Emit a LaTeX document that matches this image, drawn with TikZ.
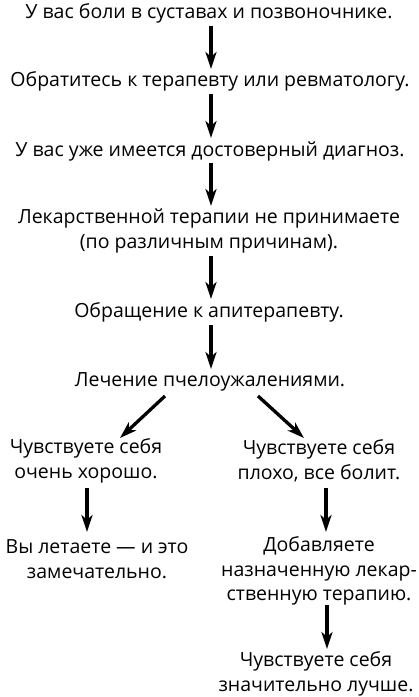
\documentclass[tikz,border=0pt]{standalone}
\usepackage{fontspec}
\setmainfont{Open Sans}
\usetikzlibrary{arrows.meta}
\begin{document}
\begin{tikzpicture}[x=1pt,y=-1pt,
  txt/.style={align=center,inner sep=0pt,font=\fontsize{19.5}{24.8}\selectfont},
  arr/.style={line width=3.3pt,-{Stealth[length=17pt,width=11pt,inset=5pt]}}]
\useasboundingbox (0,0) rectangle (419,697);
\node[txt] (n1) at (209,13) {У вас боли в суставах и позвоночнике.};
\node[txt] (n2) at (210,81) {Обратитесь к терапевту или ревматологу.};
\node[txt] (n3) at (210,151) {У вас уже имеется достоверный диагноз.};
\node[txt] (n4) at (209,231) {Лекарственной терапии не принимаете\\(по различным причинам).};
\node[txt] (n5) at (209,312) {Обращение к апитерапевту.};
\node[txt] (n6) at (210,382) {Лечение пчелоужалениями.};
\node[txt] (n7) at (86,461) {Чувствуете себя\\очень хорошо.};
\node[txt] (n8) at (319,461) {Чувствуете себя\\плохо, все болит.};
\node[txt] (n9) at (97,559) {Вы летаете — и это\\замечательно.};
\node[txt] (n10) at (319,571) {Добавляете\\назначенную лекар-\\ственную терапию.};
\node[txt] (n11) at (316,674) {Чувствуете себя\\значительно лучше.};
\coordinate (a1s) at (211,26); \coordinate (a1e) at (211,69);
\coordinate (a2s) at (211,94); \coordinate (a2e) at (211,138);
\coordinate (a3s) at (211,163); \coordinate (a3e) at (211,206);
\coordinate (a4s) at (211,256); \coordinate (a4e) at (211,299);
\coordinate (a5s) at (211,325); \coordinate (a5e) at (211,369);
\coordinate (a6s) at (165,396); \coordinate (a6e) at (120,438);
\coordinate (a7s) at (258,396); \coordinate (a7e) at (304,438);
\coordinate (a8s) at (87,488); \coordinate (a8e) at (87,532);
\coordinate (a9s) at (326,488); \coordinate (a9e) at (326,532);
\coordinate (a10s) at (327,605); \coordinate (a10e) at (327,649);
\draw[arr] (a1s) -- (a1e);
\draw[arr] (a2s) -- (a2e);
\draw[arr] (a3s) -- (a3e);
\draw[arr] (a4s) -- (a4e);
\draw[arr] (a5s) -- (a5e);
\draw[arr] (a6s) -- (a6e);
\draw[arr] (a7s) -- (a7e);
\draw[arr] (a8s) -- (a8e);
\draw[arr] (a9s) -- (a9e);
\draw[arr] (a10s) -- (a10e);
\end{tikzpicture}
\end{document}
